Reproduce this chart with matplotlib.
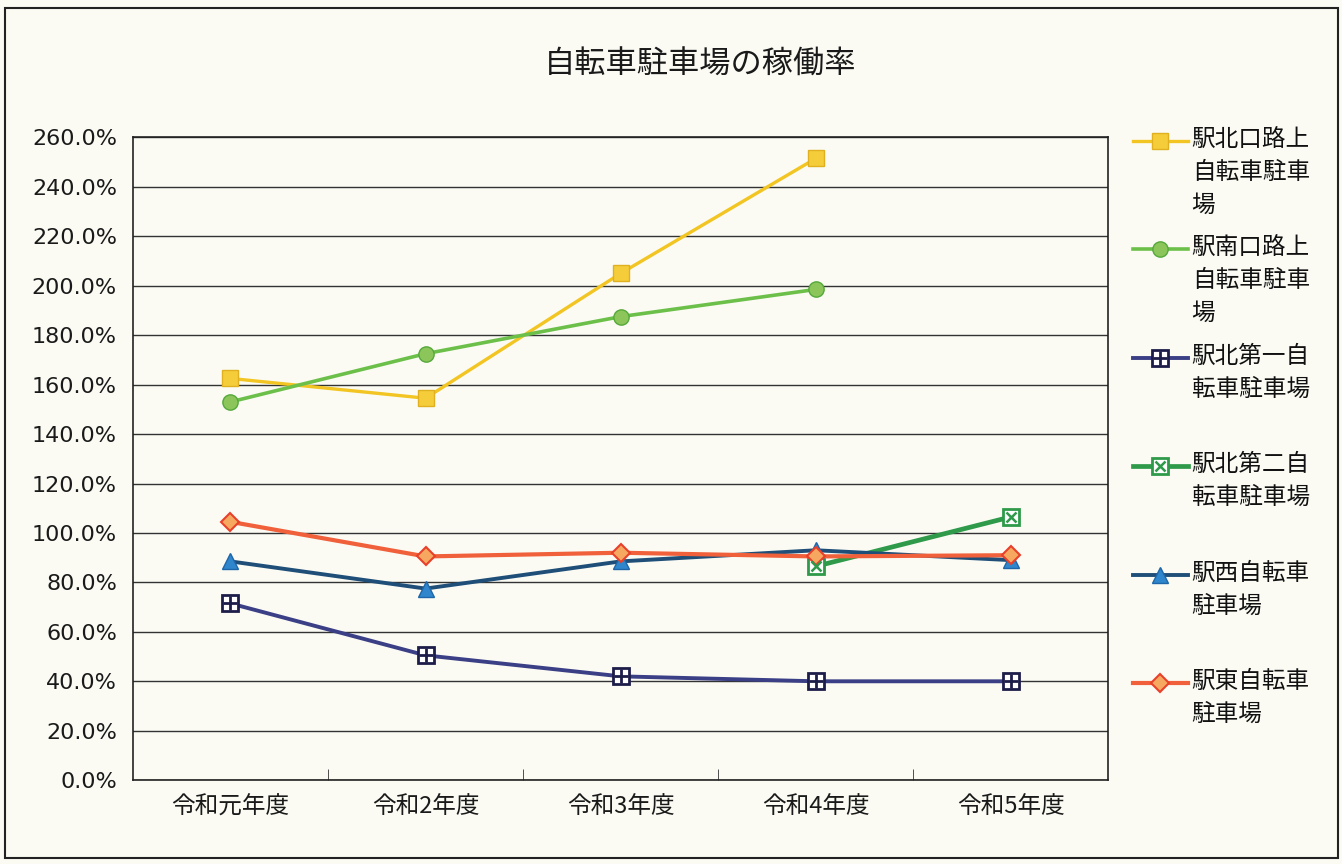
import matplotlib
matplotlib.use("Agg")
import matplotlib.pyplot as plt
from matplotlib.lines import Line2D
from matplotlib.legend_handler import HandlerLine2D
from matplotlib.ticker import MultipleLocator, FuncFormatter, FixedLocator

plt.rcParams['font.family'] = ['Noto Sans CJK JP', 'DejaVu Sans']

# データ
years = ['令和元年度', '令和2年度', '令和3年度', '令和4年度', '令和5年度']
kita_rojo = [162.5, 154.5, 205.0, 251.5, None]
minami_rojo = [153.0, 172.5, 187.5, 198.5, None]
kita_dai1 = [71.5, 50.5, 42.0, 40.0, 40.0]
kita_dai2 = [None, None, None, 86.5, 106.5]
nishi = [88.5, 77.5, 88.5, 93.0, 89.0]
higashi = [104.5, 90.5, 92.0, 90.5, 91.0]

labels = ['駅北口路上\n自転車駐車\n場', '駅南口路上\n自転車駐車\n場',
          '駅北第一自\n転車駐車場\n ', '駅北第二自\n転車駐車場\n ',
          '駅西自転車\n駐車場\n ', '駅東自転車\n駐車場\n ']

bg = '#fbfbf4'
fig = plt.figure(figsize=(13.42, 8.64), dpi=100, facecolor=bg)
ax = fig.add_axes([0.099, 0.097, 0.727, 0.744], facecolor=bg)

x = list(range(len(years)))

def clean(v):
    return [float('nan') if a is None else a for a in v]

h1, = ax.plot(x, clean(kita_rojo), color='#f2c522', lw=2.4, marker='s', ms=11,
              mfc='#f5cd3a', mec='#e0b020', zorder=5)
h2, = ax.plot(x, clean(minami_rojo), color='#6cc04a', lw=2.6, marker='o', ms=11,
              mfc='#8cc65a', mec='#55a83a', zorder=5)
h3, = ax.plot(x, clean(kita_dai1), color='#3b3f86', lw=2.8, marker='s', ms=11,
              mfc='white', mec='#1d1d4a', mew=2, zorder=5)
h3b, = ax.plot(x, clean(kita_dai1), ls='none', marker='+', ms=10, mec='#1d1d4a', mew=2, zorder=6)
h4, = ax.plot(x, clean(kita_dai2), color='#2e9a4a', lw=3.4, marker='s', ms=11,
              mfc='white', mec='#2e9a4a', mew=2, zorder=5)
h4b, = ax.plot(x, clean(kita_dai2), ls='none', marker='x', ms=7, mec='#2e9a4a', mew=1.8, zorder=6)
h5, = ax.plot(x, clean(nishi), color='#1f4f78', lw=2.8, marker='^', ms=12,
              mfc='#2f86cc', mec='#1f66a8', zorder=5)
h6, = ax.plot(x, clean(higashi), color='#f0603a', lw=3.0, marker='D', ms=9,
              mfc='#f6a860', mec='#e8402a', mew=1.5, zorder=5)

ax.set_xlim(-0.5, len(years) - 0.5)
ax.set_ylim(0, 260)
ax.yaxis.set_major_locator(MultipleLocator(20))
ax.yaxis.set_major_formatter(FuncFormatter(lambda v, p: f'{v:.1f}%'))
ax.grid(axis='y', color='#333333', lw=1.0)
ax.set_axisbelow(True)

ax.set_xticks(x)
ax.set_xticklabels(years)
ax.xaxis.set_minor_locator(FixedLocator([i + 0.5 for i in range(len(years) - 1)]))
ax.tick_params(axis='x', which='major', length=0, pad=11, labelsize=17, colors='#1a1a1a')
ax.tick_params(axis='x', which='minor', length=8, direction='in', color='#333333')
ax.tick_params(axis='y', length=0, pad=11.5, labelsize=16, colors='#1a1a1a')
for t in ax.get_yticklabels():
    t.set_fontfamily('DejaVu Sans')

for s in ax.spines.values():
    s.set_color('#222222')
    s.set_linewidth(1.2)

fig.text(0.522, 0.925, '自転車駐車場の稼働率', ha='center', va='center', fontsize=22.5, color='#1a1a1a')


# 凡例のマーカーを1行目の高さに合わせる
class TopLineHandler(HandlerLine2D):
    def __init__(self, shift, **kw):
        super().__init__(**kw)
        self.shift = shift

    def create_artists(self, legend, orig_handle, xdescent, ydescent, width, height, fontsize, trans):
        return super().create_artists(legend, orig_handle, xdescent, ydescent - 2 * self.shift,
                                      width, height, fontsize, trans)


leg_fs = 17
leg = fig.legend([h1, h2, (h3, h3b), (h4, h4b), h5, h6], labels, loc='upper left',
                 bbox_to_anchor=(0.844, 0.852), frameon=False, fontsize=leg_fs,
                 borderpad=0, borderaxespad=0,
                 handlelength=2.35, handletextpad=0.15, labelspacing=0.83,
                 labelcolor='#111111',
                 handler_map={Line2D: TopLineHandler(shift=23)})
for t in leg.get_texts():
    t.set_linespacing(1.55)

# 外枠
fig.patches.append(plt.Rectangle((0.004, 0.007), 0.993, 0.984, transform=fig.transFigure,
                                 fill=False, ec='#222222', lw=1.5))

fig.savefig('out.png', dpi=100, facecolor=bg)
